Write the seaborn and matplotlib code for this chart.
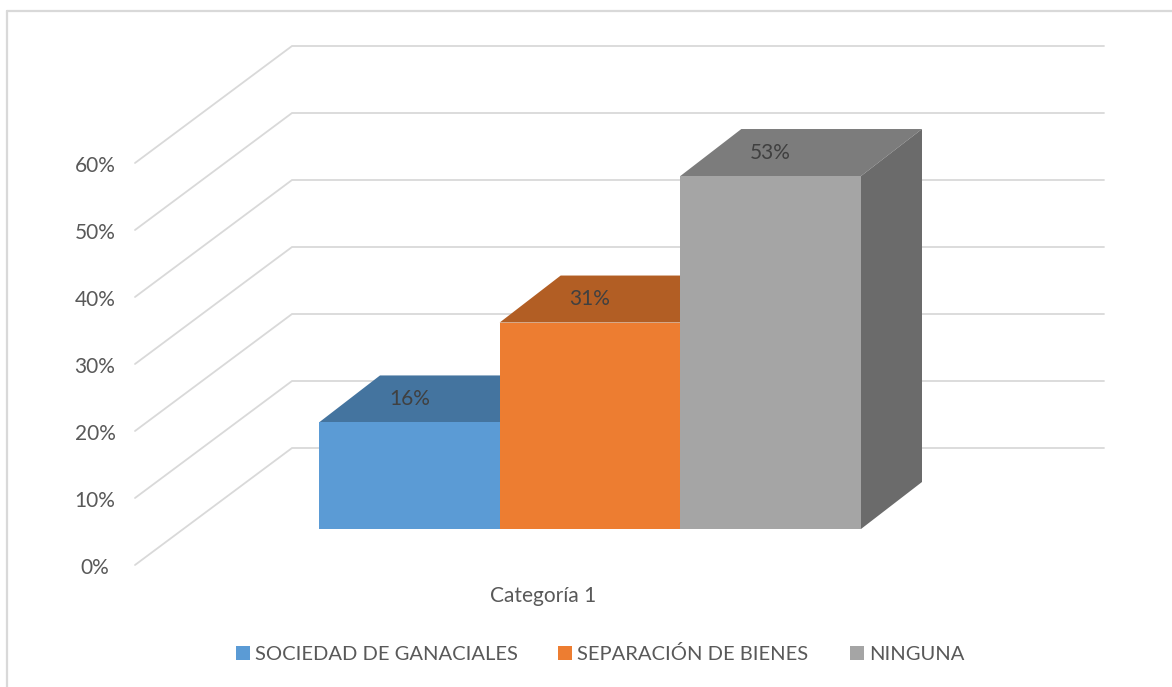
import matplotlib
matplotlib.use("Agg")
import matplotlib.pyplot as plt
from matplotlib.patches import Polygon, Rectangle
import pandas as pd
import seaborn as sns

# Data
category = ["Categoría 1"]
series = ["SOCIEDAD DE GANACIALES", "SEPARACIÓN DE BIENES", "NINGUNA"]
values = [16, 31, 53]
axis_ticks = [0, 10, 20, 30, 40, 50, 60]

# Colors
FRONT = ["#5B9BD5", "#ED7D31", "#A5A5A5"]
TOP = ["#44749F", "#B25E24", "#7C7C7C"]
SIDE = ["#3D6890", "#9E5320", "#6B6B6B"]
TEXT = "#595959"
GRID = "#D9D9D9"

W, H = 1172, 687
# pixel layout
FLOOR_FRONT_Y = 529
PX_PER_PCT = 6.66
BAR_DX, BAR_DY = 61, 47
WALL_DX, WALL_DY = 157, 117

sns.set_theme(style="white")
plt.rcParams["font.family"] = ["Lato", "DejaVu Sans"]

df = pd.DataFrame({"cat": category * 3, "serie": series, "valor": values})

fig = plt.figure(figsize=(W / 100, H / 100), dpi=100, facecolor="white")

# background layer in pixels: frame, grid lines, tick labels, legend
bg = fig.add_axes([0, 0, 1, 1], zorder=1)
bg.set_xlim(0, W)
bg.set_ylim(H, 0)
bg.axis("off")
bg.plot([7, 7], [H, 11], color=GRID, lw=1.6)
bg.plot([7, W], [11, 11], color=GRID, lw=1.6)

for t in axis_ticks:
    y0 = 565 - t * 6.7
    bg.plot([135, 135 + WALL_DX, 1104], [y0, y0 - WALL_DY, y0 - WALL_DY],
            color=GRID, lw=1.3, solid_joinstyle="miter")
    bg.text(95, y0 + 3, f"{t}%", ha="center", va="center", fontsize=15, color=TEXT)

# bars layer: x axis in category units, y axis in percent
ax = fig.add_axes([0, 0, 1, 1], zorder=2)
ax.patch.set_alpha(0)
sns.barplot(data=df, x="cat", y="valor", hue="serie", hue_order=series,
            palette=FRONT, width=0.8, saturation=1, legend=False, linewidth=0, ax=ax)
unit = 542 / 0.8
ax.set_xlim(-590 / unit, (W - 590) / unit)
ax.set_ylim(-(H - FLOOR_FRONT_Y) / PX_PER_PCT, FLOOR_FRONT_Y / PX_PER_PCT)
ax.axis("off")

dx = BAR_DX / unit
dy = BAR_DY / PX_PER_PCT
bars = list(ax.patches)[:3]
for i, bar in enumerate(bars):
    x0, x1 = bar.get_x(), bar.get_x() + bar.get_width()
    h = bar.get_height()
    bar.set_zorder(3 + i)
    ax.add_patch(Polygon([(x0, h), (x1, h), (x1 + dx, h + dy), (x0 + dx, h + dy)],
                         facecolor=TOP[i], edgecolor="none", zorder=2 + i))
    ax.add_patch(Polygon([(x1, 0), (x1 + dx, dy), (x1 + dx, h + dy), (x1, h)],
                         facecolor=SIDE[i], edgecolor="none", zorder=2 + i if i == 2 else 1))
    ax.text((x0 + x1) / 2, h + dy / 2, f"{values[i]}%",
            ha="center", va="center", fontsize=15, color="#404040", zorder=8)

# category label and legend
bg.text(543, 596, category[0], ha="center", va="center", fontsize=15, color=TEXT)
legend_x = [236, 558, 850]
for x, name, col in zip(legend_x, series, FRONT):
    bg.add_patch(Rectangle((x, 646), 14, 14, facecolor=col, edgecolor="none"))
    bg.text(x + 19, 654, name, ha="left", va="center", fontsize=14.5, color=TEXT)

fig.savefig("out.png", dpi=100)
